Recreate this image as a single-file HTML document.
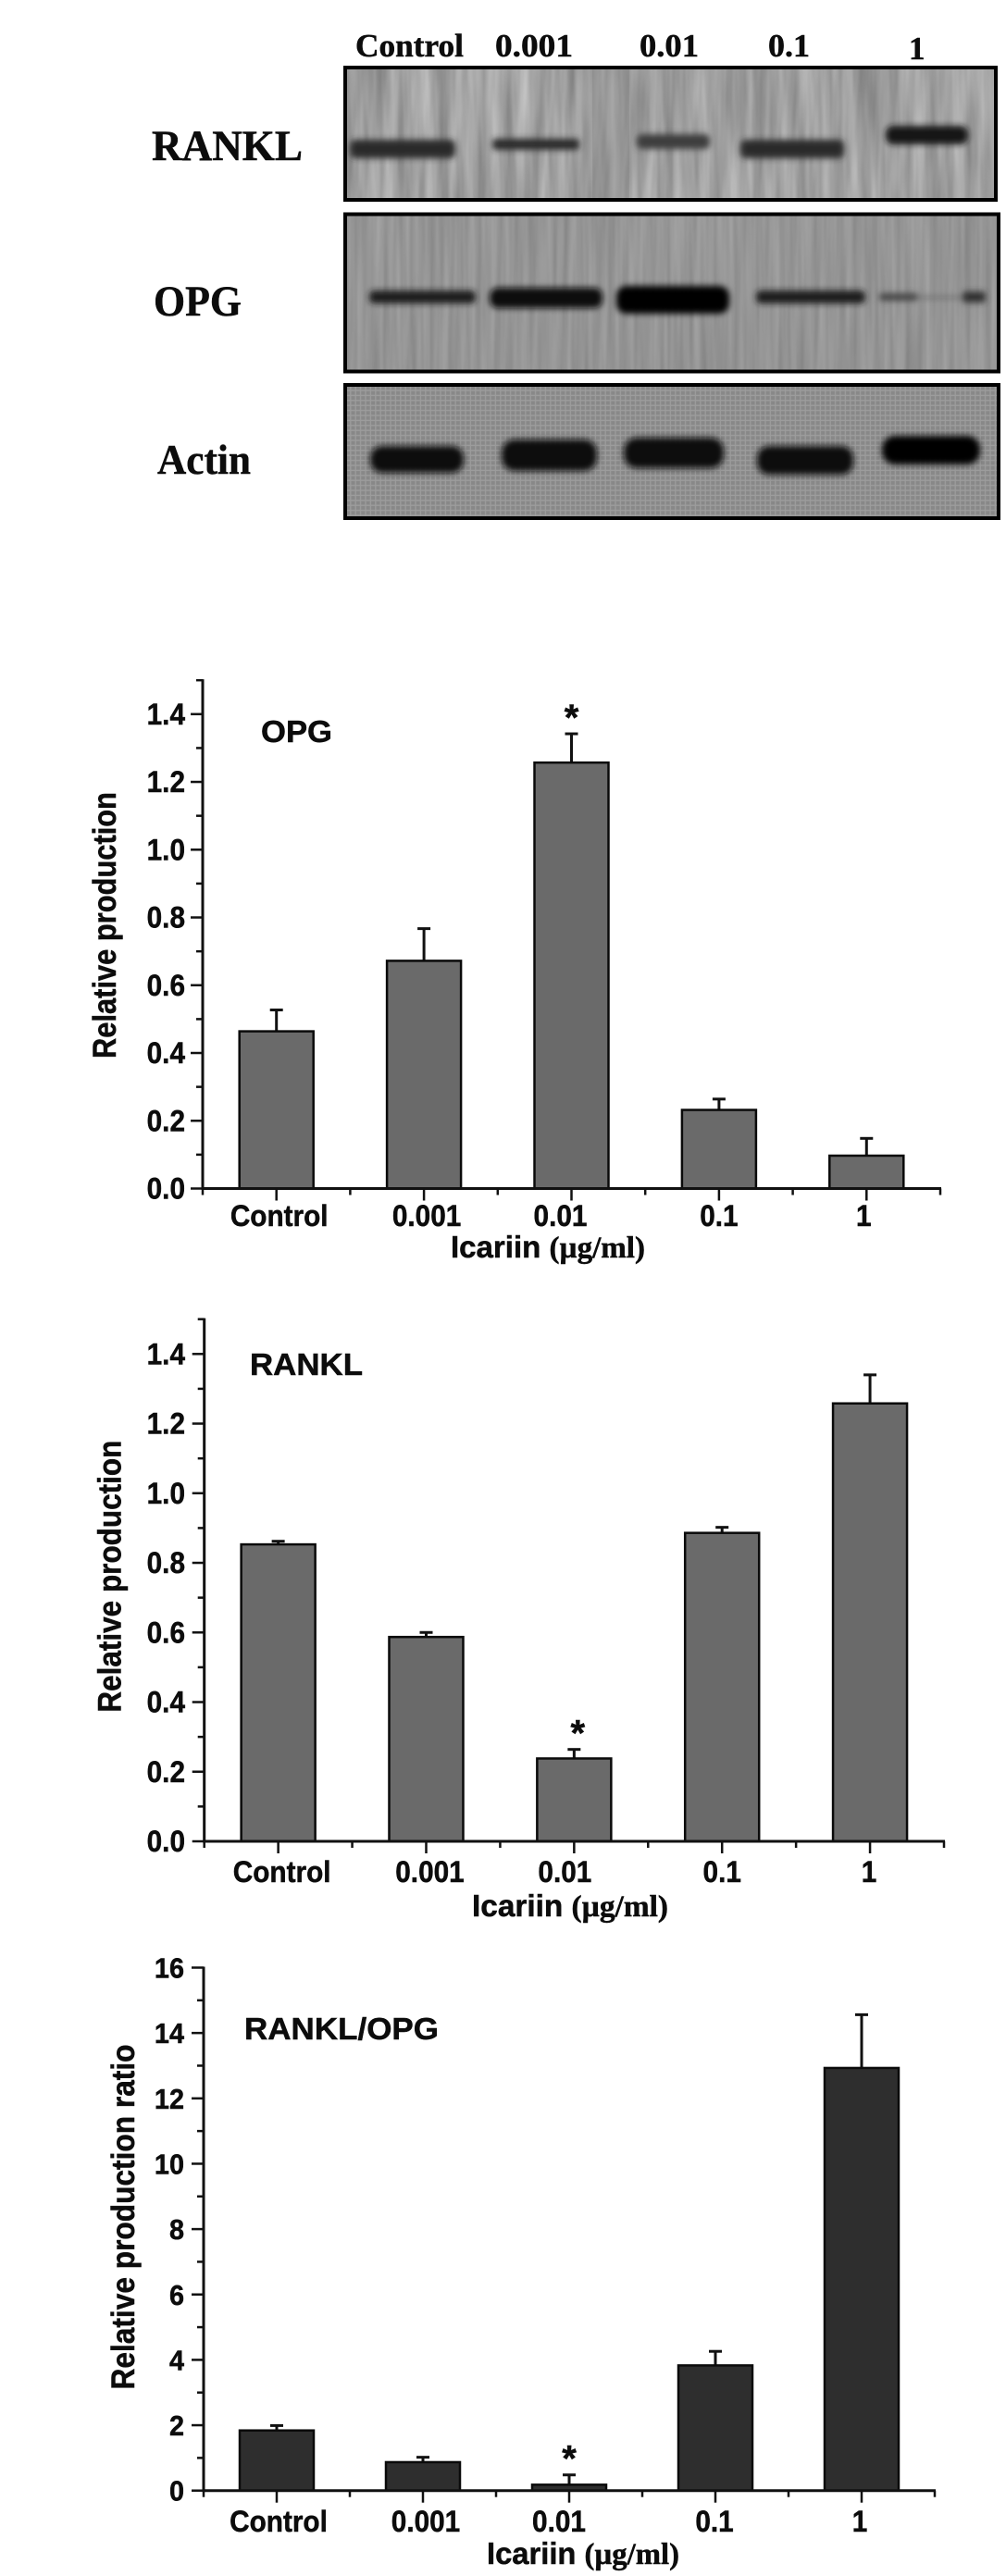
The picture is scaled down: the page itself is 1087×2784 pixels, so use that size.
<!DOCTYPE html>
<html lang="en">
<head>
<meta charset="utf-8">
<title>Icariin effect on RANKL and OPG production</title>
<style>
html,body{margin:0;padding:0;background:#fff;}
svg{display:block;}
.sans{font-family:"Liberation Sans",Arial,sans-serif;font-weight:bold;fill:#0c0c0c;stroke:#0c0c0c;stroke-width:.5px;}
.serif{font-family:"Liberation Serif","Times New Roman",serif;font-weight:bold;fill:#0c0c0c;stroke:#0c0c0c;stroke-width:.5px;}
</style>
</head>
<body>
<svg id="figure" xmlns="http://www.w3.org/2000/svg" width="1087" height="2784" viewBox="0 0 1087 2784">
<defs>
<filter id="b2" x="-20%" y="-80%" width="140%" height="260%"><feGaussianBlur stdDeviation="3.4"/></filter>
<filter id="b3" x="-20%" y="-60%" width="140%" height="220%"><feGaussianBlur stdDeviation="3.4"/></filter>
<filter id="streak1" x="0" y="0" width="100%" height="100%" color-interpolation-filters="sRGB">
<feTurbulence type="fractalNoise" baseFrequency="0.07 0.006" numOctaves="3" seed="4"/>
<feColorMatrix type="matrix" values="0.32 0 0 0 0.47  0.32 0 0 0 0.47  0.32 0 0 0 0.47  0 0 0 0 1"/>
</filter>
<filter id="streak2" x="0" y="0" width="100%" height="100%" color-interpolation-filters="sRGB">
<feTurbulence type="fractalNoise" baseFrequency="0.14 0.006" numOctaves="2" seed="9"/>
<feColorMatrix type="matrix" values="0.15 0 0 0 0.51  0.15 0 0 0 0.51  0.15 0 0 0 0.51  0 0 0 0 1"/>
</filter>
<pattern id="mesh" width="5.4" height="5.4" patternUnits="userSpaceOnUse">
<rect width="5.4" height="5.4" fill="#888"/>
<path d="M0 .8H5.4M.8 0V5.4" stroke="#9c9c9c" stroke-width="1.3"/>
</pattern>
</defs>
<rect width="1087" height="2784" fill="#fff"/>

<g>
<g class="serif" font-size="35">
<text x="384" y="61" textLength="117" lengthAdjust="spacingAndGlyphs">Control</text>
<text x="535" y="61" textLength="84" lengthAdjust="spacingAndGlyphs">0.001</text>
<text x="691" y="61" textLength="64" lengthAdjust="spacingAndGlyphs">0.01</text>
<text x="830" y="61" textLength="45" lengthAdjust="spacingAndGlyphs">0.1</text>
<text x="982" y="64">1</text>
</g>
<text class="serif" font-size="47" x="164" y="173" textLength="163" lengthAdjust="spacingAndGlyphs">RANKL</text>
<text class="serif" font-size="47" x="166" y="341" textLength="95" lengthAdjust="spacingAndGlyphs">OPG</text>
<text class="serif" font-size="46" x="170" y="512" textLength="101" lengthAdjust="spacingAndGlyphs">Actin</text>

<g>
<rect x="374" y="74" width="701" height="141" fill="#a6a6a6" filter="url(#streak1)"/>
<rect x="640" y="74" width="40" height="141" fill="#6f6f6f" opacity=".25"/>
<g fill="#2b2b2b" filter="url(#b2)">
<rect x="378" y="151" width="114" height="20" rx="6"/>
<rect x="532" y="150" width="94" height="12" rx="4"/>
<rect x="688" y="145" width="79" height="16" rx="6" fill="#3c3c3c"/>
<rect x="800" y="151" width="112" height="20" rx="6"/>
<rect x="957" y="136" width="89" height="20" rx="8" fill="#161616"/>
</g>
<rect x="373" y="73" width="703" height="143" fill="none" stroke="#000" stroke-width="4"/>
</g>

<g>
<rect x="374" y="232" width="704" height="169" fill="#9c9c9c" filter="url(#streak2)"/>
<g fill="#101010" filter="url(#b2)">
<rect x="399" y="314" width="115" height="14" rx="5" fill="#1c1c1c"/>
<rect x="529" y="311" width="122" height="22" rx="9"/>
<rect x="666" y="309" width="122" height="30" rx="11" fill="#000"/>
<rect x="817" y="314" width="118" height="14" rx="5" fill="#1c1c1c"/>
<rect x="950" y="317" width="42" height="8" rx="3" fill="#444"/>
<rect x="1040" y="315" width="25" height="12" rx="3" fill="#333"/>
<rect x="990" y="320" width="50" height="3" fill="#6b6b6b"/>
</g>
<rect x="373" y="231.500" width="706" height="170" fill="none" stroke="#000" stroke-width="4"/>
</g>

<g>
<rect x="374" y="416" width="704" height="144" fill="url(#mesh)"/>
<g fill="#0f0f0f" filter="url(#b3)">
<rect x="400" y="482" width="101" height="29" rx="13"/>
<rect x="542" y="475" width="103" height="34" rx="14"/>
<rect x="674" y="473" width="108" height="33" rx="14"/>
<rect x="818" y="482" width="104" height="31" rx="13"/>
<rect x="953" y="471" width="106" height="31" rx="14" fill="#050505"/>
</g>
<rect x="373" y="416" width="706" height="144" fill="none" stroke="#000" stroke-width="4"/>
</g>
</g>

<g id="charts"></g>
</svg>

<script>
const categories = ['Control', '0.001', '0.01', '0.1', '1'];

const opgValues = [0.464, 0.672, 1.257, 0.232, 0.097];
const opgErrorTops = [0.527, 0.767, 1.342, 0.264, 0.148];
const opgTickLabels = ['0.0', '0.2', '0.4', '0.6', '0.8', '1.0', '1.2', '1.4'];

const ranklValues = [0.853, 0.587, 0.238, 0.886, 1.258];
const ranklErrorTops = [0.862, 0.600, 0.264, 0.902, 1.340];
const ranklTickLabels = ['0.0', '0.2', '0.4', '0.6', '0.8', '1.0', '1.2', '1.4'];

const ratioValues = [1.84, 0.87, 0.18, 3.83, 12.93];
const ratioErrorTops = [1.99, 1.02, 0.48, 4.26, 14.56];
const ratioTickLabels = ['0', '2', '4', '6', '8', '10', '12', '14', '16'];

const significantCategory = '0.01';

const SVG_NS = 'http://www.w3.org/2000/svg';
const root = document.getElementById('charts');

function make(parent, tag, attrs, text) {
  const el = document.createElementNS(SVG_NS, tag);
  for (const k in attrs) el.setAttribute(k, attrs[k]);
  if (text !== undefined) el.textContent = text;
  parent.appendChild(el);
  return el;
}

function drawChart(cfg, values, errorTops, tickLabels) {
  const yOf = v => cfg.baseY - (v / cfg.tickMax) * (cfg.baseY - cfg.tickMaxY);
  const step = (cfg.right - cfg.axisX) / categories.length;
  const xOf = i => cfg.axisX + (i + 0.5) * step;

  const g = make(root, 'g', {});
  
  

  // bars and error bars
  categories.forEach((cat, i) => {
    const stem = make(g, 'line', { x1: xOf(i), x2: xOf(i), y1: yOf(values[i]), y2: yOf(errorTops[i]), stroke: '#111', 'stroke-width': 3 });
    
    
    const cap = make(g, 'line', { x1: xOf(i) - 7, x2: xOf(i) + 7, y1: yOf(errorTops[i]), y2: yOf(errorTops[i]), stroke: '#111', 'stroke-width': 3 });
    
    
    const bar = make(g, 'rect', { x: xOf(i) - 40, y: yOf(values[i]), width: 80, height: cfg.baseY - yOf(values[i]), fill: cfg.barFill, stroke: '#0a0a0a', 'stroke-width': 2.5 });
    
    

    const label = make(g, 'text', { class: 'sans', 'font-size': 32, 'text-anchor': 'middle', transform: 'translate(' + (xOf(i) + cfg.labelNudge[i]) + ',' + cfg.labelY + ') scale(.93,1)' }, cat);
    
    

    const majorTick = make(g, 'line', { x1: xOf(i), x2: xOf(i), y1: cfg.baseY, y2: cfg.baseY + 13, stroke: '#111', 'stroke-width': 2.5 });
    
    

    if (cat === significantCategory) {
      const star = make(g, 'text', { class: 'sans', 'font-size': 40, x: xOf(i) + cfg.starNudge, y: yOf(errorTops[i]) - 4, 'text-anchor': 'middle' }, '*');
      
      
    }
  });

  // x minor ticks
  for (let i = 0; i <= categories.length; i++) {
    const minorX = make(g, 'line', { x1: cfg.axisX + i * step, x2: cfg.axisX + i * step, y1: cfg.baseY, y2: cfg.baseY + 7, stroke: '#111', 'stroke-width': 2.5 });
    
    
  }

  // y ticks
  const tickStep = cfg.tickMax / (tickLabels.length - 1);
  tickLabels.forEach((lab, i) => {
    const v = i * tickStep;
    const tick = make(g, 'line', { x1: cfg.axisX - 13, x2: cfg.axisX, y1: yOf(v), y2: yOf(v), stroke: '#111', 'stroke-width': 2.5 });
    
    
    const text = make(g, 'text', { class: 'sans', 'font-size': cfg.tickFont, 'text-anchor': 'end', transform: 'translate(' + cfg.tickRight + ',' + (yOf(v) + 11) + ') scale(.93,1)' }, lab);
    
    
    const mv = v + tickStep / 2;
    if (mv <= cfg.yMax) {
      const minorY = make(g, 'line', { x1: cfg.axisX - 7, x2: cfg.axisX, y1: yOf(mv), y2: yOf(mv), stroke: '#111', 'stroke-width': 2.5 });
      
      
    }
  });

  // axes
  const yAxis = make(g, 'line', { x1: cfg.axisX, x2: cfg.axisX, y1: yOf(cfg.yMax) - 1, y2: cfg.baseY + 1.5, stroke: '#111', 'stroke-width': 3 });
  
  
  const xAxis = make(g, 'line', { x1: cfg.axisX, x2: cfg.right + 1, y1: cfg.baseY, y2: cfg.baseY, stroke: '#111', 'stroke-width': 3 });
  
  

  // titles
  const yTitle = make(g, 'text', { class: 'sans', 'font-size': 35, 'text-anchor': 'middle', textLength: cfg.yTitleLen, lengthAdjust: 'spacingAndGlyphs', transform: 'translate(' + cfg.yTitleX + ',' + cfg.yTitleY + ') rotate(-90)' }, cfg.yTitle);
  
  

  const xTitle = make(g, 'text', { x: cfg.xTitleX, y: cfg.xTitleY, 'font-size': 33, textLength: cfg.xTitleLen, lengthAdjust: 'spacingAndGlyphs' });
  
  
  make(xTitle, 'tspan', { class: 'sans' }, 'Icariin ');
  make(xTitle, 'tspan', { class: 'serif' }, '(\u00b5g/ml)');

  const panel = make(g, 'text', { class: 'sans', 'font-size': 33, x: cfg.panelX, y: cfg.panelY, textLength: cfg.panelLen, lengthAdjust: 'spacingAndGlyphs' }, cfg.panel);
  
  
}

drawChart({ name: 'opg', panel: 'OPG', panelX: 282, panelY: 802, panelLen: 77,
  axisX: 219, right: 1016, baseY: 1284.5, tickMaxY: 771.8, tickMax: 1.4, yMax: 1.5,
  barFill: '#6a6a6a', tickFont: 32, tickRight: 200, labelY: 1325, labelNudge: [3, 3, -12, 0, -3], starNudge: 0,
  yTitle: 'Relative production', yTitleX: 125, yTitleY: 1000, yTitleLen: 288,
  xTitleX: 487, xTitleY: 1359, xTitleLen: 210 }, opgValues, opgErrorTops, opgTickLabels);

drawChart({ name: 'rankl', panel: 'RANKL', panelX: 270, panelY: 1486, panelLen: 122,
  axisX: 220.7, right: 1020, baseY: 1990, tickMaxY: 1463.3, tickMax: 1.4, yMax: 1.5,
  barFill: '#6a6a6a', tickFont: 32, tickRight: 200, labelY: 2034, labelNudge: [4, 4, -10, 0, -1], starNudge: 4,
  yTitle: 'Relative production', yTitleX: 130.6, yTitleY: 1703.6, yTitleLen: 294,
  xTitleX: 510, xTitleY: 2071, xTitleLen: 212 }, ranklValues, ranklErrorTops, ranklTickLabels);

drawChart({ name: 'ratio', panel: 'RANKL/OPG', panelX: 264, panelY: 2204, panelLen: 210,
  axisX: 220, right: 1010, baseY: 2691.7, tickMaxY: 2126.5, tickMax: 16, yMax: 16,
  barFill: '#2e2e2e', tickFont: 31, tickRight: 199, labelY: 2736, labelNudge: [2, 3, -11, -1, -2], starNudge: 0,
  yTitle: 'Relative production ratio', yTitleX: 145, yTitleY: 2396, yTitleLen: 373,
  xTitleX: 526, xTitleY: 2771, xTitleLen: 208 }, ratioValues, ratioErrorTops, ratioTickLabels);
</script>
</body>
</html>
